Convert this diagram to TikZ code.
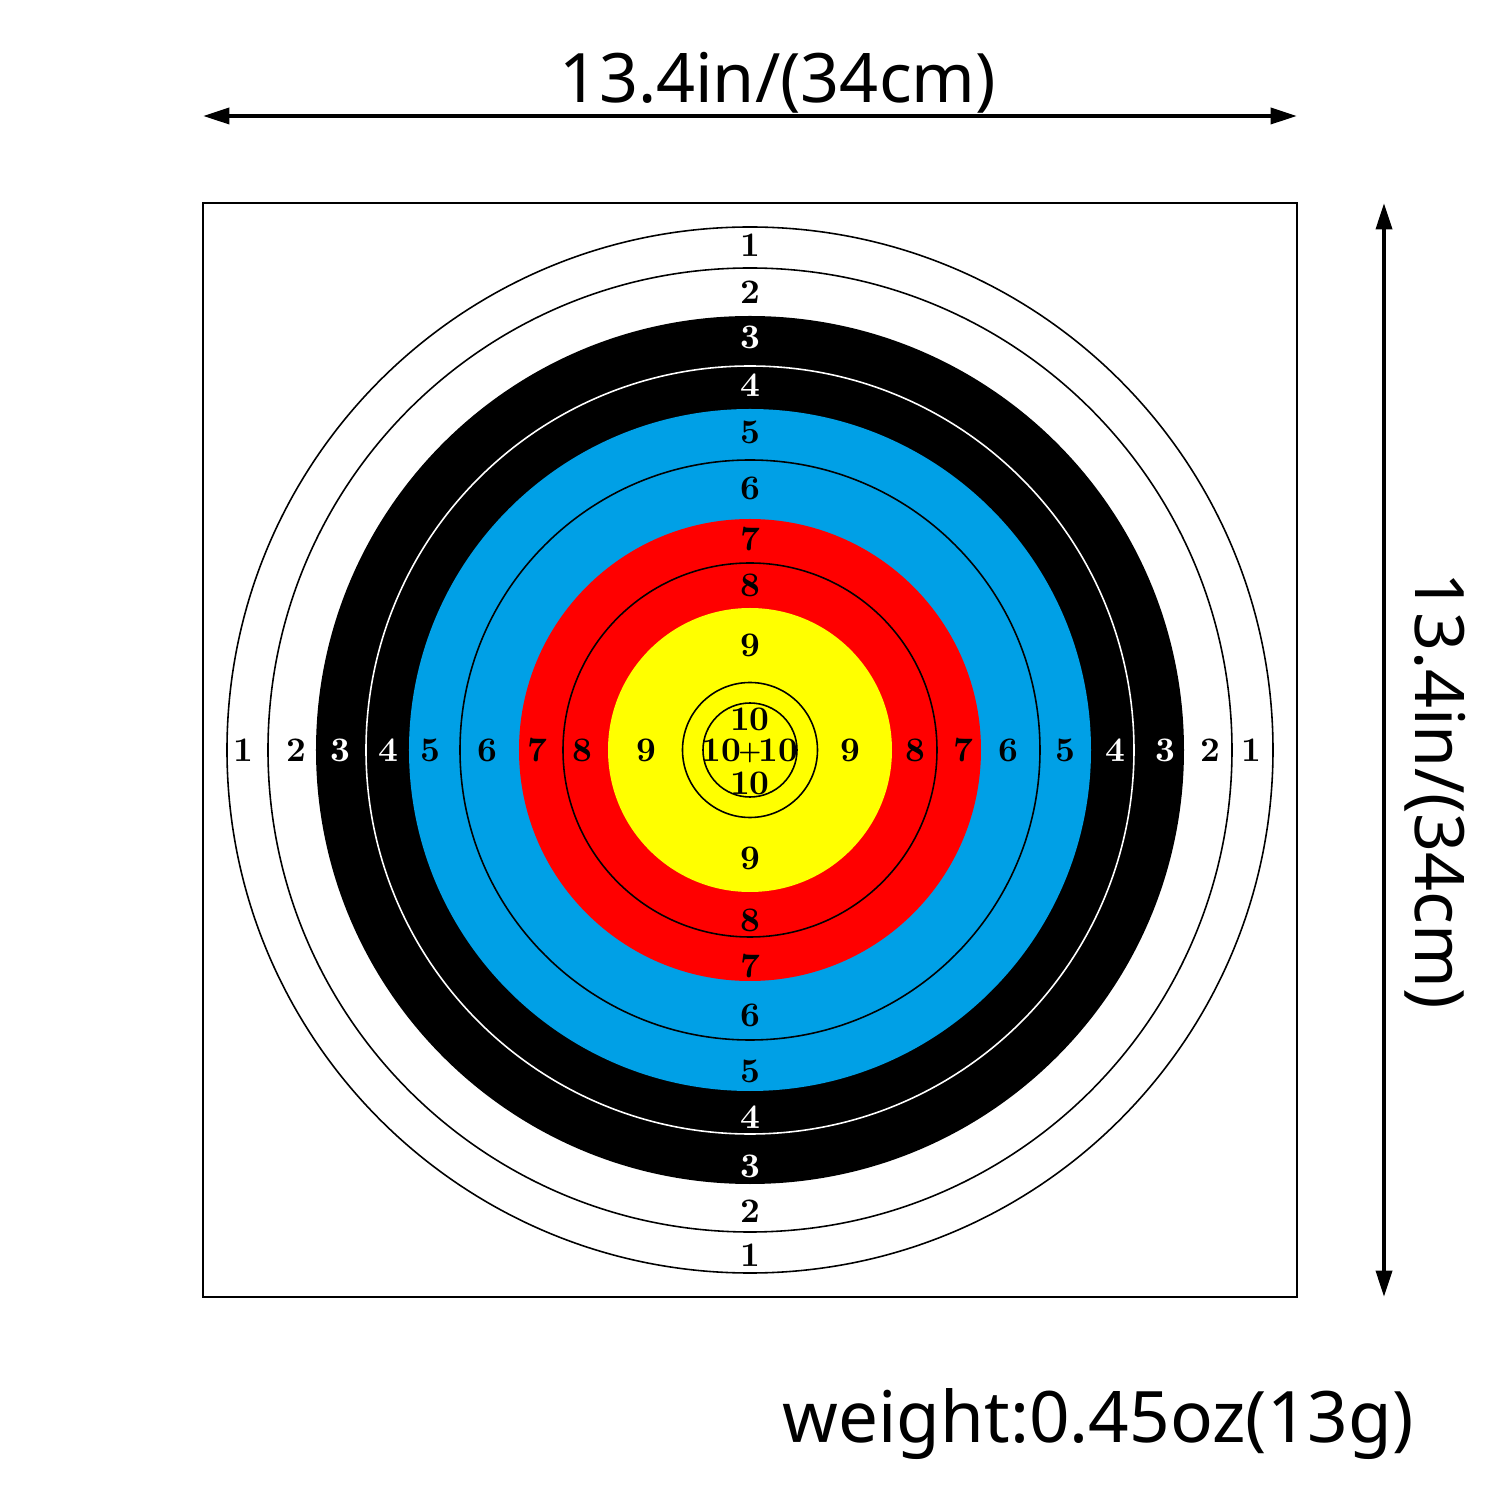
\documentclass[tikz,border=0pt]{standalone}
\usepackage{fontspec}
\setsansfont{Noto Sans}
\usetikzlibrary{arrows.meta}
\definecolor{ringblue}{RGB}{0,160,230}
\definecolor{ringred}{RGB}{255,0,0}
\definecolor{ringyellow}{RGB}{255,255,0}
\tikzset{
	score/.style={font=\fontsize{9.8}{11}\selectfont\bfseries, inner sep=0pt},
	scorew/.style={score, text=white},
	ringline/.style={line width=0.45pt},
	dimtext/.style={font=\sffamily\fontsize{19.4}{23}\selectfont, inner sep=0pt},
	dimarrow/.style={line width=1.15pt, {Triangle[length=7.5pt,width=4.5pt]}-{Triangle[length=7.5pt,width=4.5pt]}}
}
\begin{document}
\begin{tikzpicture}[x=0.01cm,y=0.01cm]
		\useasboundingbox (-750,-750) rectangle (750,750);
		\fill[white] (-750,-750) rectangle (750,750);
		\draw[black,line width=0.4pt] (-547,-547) rectangle (547,547);
		\fill[black] (0,0) circle (434);
		\fill[ringblue] (0,0) circle (341);
		\fill[ringred] (0,0) circle (231);
		\fill[ringyellow] (0,0) circle (142);
		\draw[ringline,black] (0,0) circle (523);
		\draw[ringline,black] (0,0) circle (482);
		\draw[ringline,white] (0,0) circle (384);
		\draw[ringline,black] (0,0) circle (290);
		\draw[ringline,black] (0,0) circle (187);
		\draw[ringline,black] (0,0) circle (67.5);
		\draw[ringline,black] (0,0) circle (47);
		\node[score] (top1) at (0,505) {1};
		\node[score] (top2) at (0,458) {2};
		\node[scorew] (top3) at (0,413) {3};
		\node[scorew] (top4) at (0,365) {4};
		\node[score] (top5) at (0,318) {5};
		\node[score] (top6) at (0,262) {6};
		\node[score] (top7) at (0,211) {7};
		\node[score] (top8) at (0,165) {8};
		\node[score] (top9) at (0,105) {9};
		\node[score] (bot1) at (0,-505) {1};
		\node[score] (bot2) at (0,-461) {2};
		\node[scorew] (bot3) at (0,-416) {3};
		\node[scorew] (bot4) at (0,-367) {4};
		\node[score] (bot5) at (0,-321) {5};
		\node[score] (bot6) at (0,-265) {6};
		\node[score] (bot7) at (0,-216) {7};
		\node[score] (bot8) at (0,-170) {8};
		\node[score] (bot9) at (0,-108) {9};
		\node[score] (lft1) at (-507,0) {1};
		\node[score] (lft2) at (-454,0) {2};
		\node[scorew] (lft3) at (-410,0) {3};
		\node[scorew] (lft4) at (-362,0) {4};
		\node[score] (lft5) at (-320,0) {5};
		\node[score] (lft6) at (-263,0) {6};
		\node[score] (lft7) at (-213,0) {7};
		\node[score] (lft8) at (-168,0) {8};
		\node[score] (lft9) at (-104,0) {9};
		\node[score] (rgt1) at (501,0) {1};
		\node[score] (rgt2) at (460,0) {2};
		\node[scorew] (rgt3) at (415,0) {3};
		\node[scorew] (rgt4) at (365,0) {4};
		\node[score] (rgt5) at (315,0) {5};
		\node[score] (rgt6) at (258,0) {6};
		\node[score] (rgt7) at (213,0) {7};
		\node[score] (rgt8) at (165,0) {8};
		\node[score] (rgt9) at (100,0) {9};
		\node[score] (ctop) at (0,31) {10};
		\node[score,text height=6.3pt,text depth=0pt] (cmid) at (0,0) {10\kern-0.8pt\raisebox{0.4pt}{\scalebox{0.75}{+}}\kern-0.8pt10};
		\node[score] (cbot) at (0,-33) {10};
		\coordinate (wl) at (-547,634);
		\coordinate (wr) at (547,634);
		\coordinate (ht) at (634,547);
		\coordinate (hb) at (634,-547);
		\draw[dimarrow] (wl) -- (wr);
		\draw[dimarrow] (ht) -- (hb);
		\node[dimtext] (wlabel) at (28,667) {13.4in/(34cm)};
		\node[dimtext,rotate=-90] (hlabel) at (685,-41) {13.4in/(34cm)};
		\node[dimtext,font=\sffamily\fontsize{20.2}{24}\selectfont] (weight) at (348,-674) {weight:0.45oz(13g)};
\end{tikzpicture}
\end{document}
